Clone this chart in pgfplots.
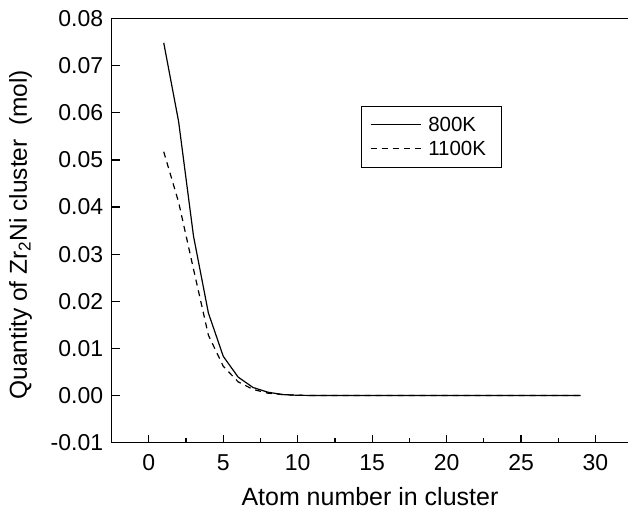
\documentclass[border=0pt]{standalone}
\usepackage{pgfplots}
\pgfplotsset{compat=1.18}
\usepackage{fontspec}
\setmainfont{Liberation Sans}
\begin{document}
\begin{tikzpicture}
\begin{axis}[
  scale only axis,
  width=517pt, height=424.7pt,
  xmin=-2.5, xmax=32.2,
  ymin=-0.01, ymax=0.08,
  axis x line=box, axis y line=left,
  axis line style={-, line width=1.5pt},
  xtick={0,5,...,30}, minor x tick num=1,
  ytick={-0.01,0,0.01,...,0.08}, minor y tick num=1,
  xtick pos=bottom, ytick pos=left,
  tick align=inside,
  major tick length=8pt, minor tick length=5pt,
  every tick/.style={line width=1.3pt, black},
  scaled y ticks=false,
  /pgf/number format/assume math mode=true,
  ticklabel style={font=\fontsize{23}{27}\selectfont},
  xticklabel style={yshift=-8pt},
  yticklabel style={xshift=-5pt, /pgf/number format/.cd, fixed, fixed zerofill, precision=2},
  xlabel style={font=\fontsize{25}{30}\selectfont},
  ylabel style={font=\fontsize{24.5}{29}\selectfont},
  xlabel={Atom number in cluster},
  ylabel={Quantity of Zr\textsubscript{2}Ni cluster~ (mol)},
  xlabel style={at={(axis description cs:0.5,-0.127)}, anchor=center},
  ylabel style={at={(axis description cs:-0.1764,0.49)}, anchor=center},
  legend style={at={(rel axis cs:0.482,0.7935)}, anchor=north west,
    draw=black, line width=1pt, font=\fontsize{20.5}{24}\selectfont,
    inner xsep=9pt, inner ysep=8.5pt, row sep=4pt, column sep=5pt},
  legend cell align=left,
  legend image code/.code={\draw[#1] (0cm,0cm) -- (50pt,0cm);},
  clip=false,
]
\addplot[black, line width=1.2pt] coordinates {
 (1,0.0748) (2,0.0581) (3,0.0338) (4,0.0175) (5,0.0083) (6,0.0039)
 (7,0.0017) (8,0.0007) (9,0.0002) (10,0.00005) (11,0.00001) (12,0)
 (13,0) (14,0) (15,0) (16,0) (17,0) (18,0) (19,0) (20,0) (21,0)
 (22,0) (23,0) (24,0) (25,0) (26,0) (27,0) (28,0) (29,0)};
\addlegendentry{800K}
\addplot[black, line width=1.2pt, dash pattern=on 6pt off 5pt] coordinates {
 (1,0.0517) (2,0.0410) (3,0.0268) (4,0.0128) (5,0.0062) (6,0.0029)
 (7,0.0013) (8,0.0005) (9,0.0002) (10,0.00005) (11,0) (12,0)
 (13,0) (14,0) (15,0) (16,0) (17,0) (18,0) (19,0) (20,0) (21,0)
 (22,0) (23,0) (24,0) (25,0) (26,0) (27,0) (28,0) (29,0)};
\addlegendentry{1100K\hspace*{5pt}}
\coordinate (ll) at (rel axis cs:0,0);
\coordinate (ur) at (rel axis cs:1,1);
\end{axis}
\path (ll) ++(-111.7pt,-69pt);
\path (ur) ++(0pt,18.3pt);
\end{tikzpicture}
\end{document}
